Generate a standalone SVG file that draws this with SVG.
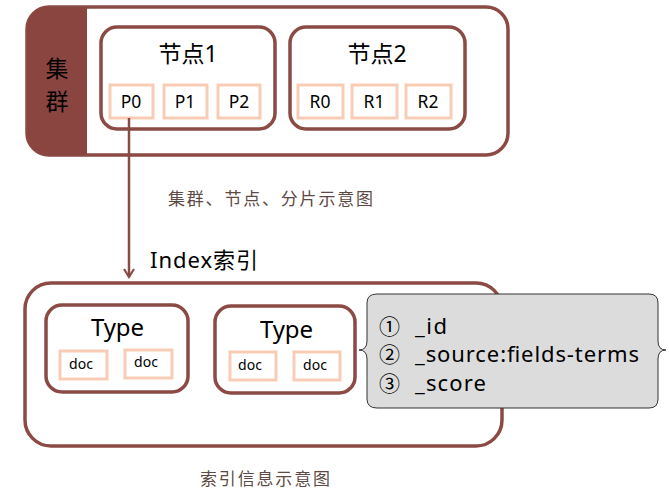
<svg xmlns="http://www.w3.org/2000/svg" width="669" height="496" viewBox="0 0 669 496">
<style>
.frame{fill:#fff;stroke:#8B4A44;stroke-width:3.5}
.node{fill:#fff;stroke:#8B4A44;stroke-width:3.5}
.shard{fill:#fff;stroke:#F9CDB5;stroke-width:3}
.t{font-family:"Noto Sans","Noto Sans CJK SC",sans-serif;fill:#000}
.cap{font-family:"Noto Sans CJK SC",sans-serif;fill:#5E4A44;font-size:17px}
</style>
<defs>
<marker id="arr" markerWidth="12" markerHeight="12" refX="9" refY="6" orient="auto" markerUnits="userSpaceOnUse" viewBox="0 0 12 12">
<path d="M1,1 L9,6 L1,11" fill="none" stroke="#8B4A44" stroke-width="2.2"/>
</marker>
</defs>
<g id="cluster">
<rect class="frame" x="27" y="7" width="481" height="148" rx="22"/>
<path d="M47,7 H87 V155 H47 A20,20 0 0 1 27,135 V27 A20,20 0 0 1 47,7 Z" fill="#8B4540"/>
<text class="t" x="57" y="77" font-size="23" text-anchor="middle">集</text>
<text class="t" x="57" y="110" font-size="23" text-anchor="middle">群</text>
</g>
<g id="node1">
<rect class="node" x="101" y="27" width="174" height="102" rx="16"/>
<text class="t" x="188" y="62" font-size="23" text-anchor="middle">节点1</text>
</g>
<g id="p0"><rect class="shard" x="110" y="85" width="43" height="33"/><text class="t" x="131" y="108" font-size="17.5" text-anchor="middle">P0</text></g>
<g id="p1"><rect class="shard" x="164" y="85" width="43" height="33"/><text class="t" x="185" y="108" font-size="17.5" text-anchor="middle">P1</text></g>
<g id="p2"><rect class="shard" x="218" y="85" width="42" height="33"/><text class="t" x="239" y="108" font-size="17.5" text-anchor="middle">P2</text></g>
<g id="node2">
<rect class="node" x="290" y="27" width="175" height="102" rx="16"/>
<text class="t" x="377" y="62" font-size="23" text-anchor="middle">节点2</text>
</g>
<g id="r0"><rect class="shard" x="298" y="85" width="45" height="33"/><text class="t" x="320" y="108" font-size="17.5" text-anchor="middle">R0</text></g>
<g id="r1"><rect class="shard" x="352" y="85" width="45" height="33"/><text class="t" x="374" y="108" font-size="17.5" text-anchor="middle">R1</text></g>
<g id="r2"><rect class="shard" x="406" y="85" width="45" height="33"/><text class="t" x="428" y="108" font-size="17.5" text-anchor="middle">R2</text></g>
<text class="cap" x="168" y="205" textLength="205">集群、节点、分片示意图</text>
<g id="index">
<rect class="frame" x="25" y="283" width="477" height="163" rx="26"/>
<text class="t" x="150" y="268" font-size="22" textLength="108">Index索引</text>
</g>
<g id="type1">
<rect class="node" x="46" y="305" width="142" height="87" rx="16"/>
<text class="t" x="91" y="336" font-size="24" textLength="53">Type</text>
</g>
<g id="doc1"><rect class="shard" x="60" y="351" width="47" height="28"/><text class="t" x="69" y="369" font-size="14" textLength="24">doc</text></g>
<g id="doc2"><rect class="shard" x="125" y="350" width="47" height="28"/><text class="t" x="134" y="367" font-size="14" textLength="24">doc</text></g>
<g id="type2">
<rect class="node" x="215" y="306" width="140" height="87" rx="16"/>
<text class="t" x="260" y="338" font-size="24" textLength="53">Type</text>
</g>
<g id="doc3"><rect class="shard" x="230" y="352" width="46" height="28"/><text class="t" x="238" y="370" font-size="14" textLength="24">doc</text></g>
<g id="doc4"><rect class="shard" x="294" y="352" width="46" height="28"/><text class="t" x="303" y="370" font-size="14" textLength="24">doc</text></g>
<g id="fields">
<path d="M377,294 Q367,294 367,303 V341 Q367,350 359,350 Q367,350 367,359 V399 Q367,408 377,408 H649 Q658,408 658,399 V359 Q658,350 666,350 Q658,350 658,341 V303 Q658,294 649,294 Z" fill="#DCDCDC" stroke="#333" stroke-width="1"/>
<text class="t" x="379" y="334" font-size="21">①</text>
<text class="t" x="415" y="334" font-size="22" textLength="32">_id</text>
<text class="t" x="379" y="362" font-size="21">②</text>
<text class="t" x="415" y="362" font-size="22" textLength="224">_source:fields-terms</text>
<text class="t" x="379" y="391" font-size="21">③</text>
<text class="t" x="415" y="391" font-size="22" textLength="71">_score</text>
</g>
<text class="cap" x="200" y="485" textLength="130">索引信息示意图</text>
<g id="connectors">
<line x1="129" y1="118" x2="129" y2="277" stroke="#8B4A44" stroke-width="2.5" marker-end="url(#arr)"/>
</g>
</svg>
